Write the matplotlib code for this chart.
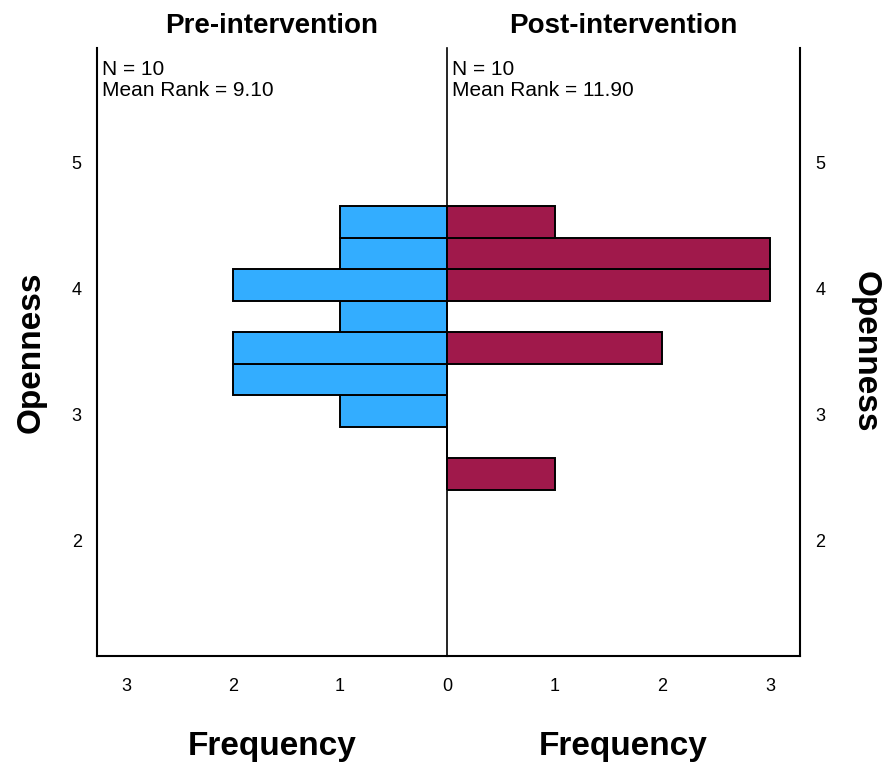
import matplotlib
matplotlib.use("Agg")
import matplotlib.pyplot as plt

# Data
bin_edges = [2.40, 2.65, 2.90, 3.15, 3.40, 3.65, 3.90, 4.15, 4.40, 4.65]
pre_counts = [0, 0, 1, 2, 2, 1, 2, 1, 1]
post_counts = [1, 0, 0, 0, 2, 0, 3, 3, 1]
groups = ["Pre-intervention", "Post-intervention"]
n_values = [10, 10]
mean_ranks = [9.10, 11.90]
y_ticks = [2, 3, 4, 5]
x_ticks_left = [0, 1, 2, 3]
x_ticks_right = [1, 2, 3]

plt.rcParams['font.family'] = ['Liberation Sans', 'DejaVu Sans']

fig = plt.figure(figsize=(8.89, 7.67), dpi=100)
L, R, B, T = 97/889, 800/889, 1-656/767, 1-48/767
M = 447/889
axl = fig.add_axes([L, B, M-L, T-B])
axr = fig.add_axes([M, B, R-M, T-B], sharey=axl)
axr.patch.set_visible(False)

lower = bin_edges[:-1]
heights = [bin_edges[i+1]-bin_edges[i] for i in range(len(lower))]

axl.barh(lower, pre_counts, height=heights, align='edge', color='#33ADFF',
         edgecolor='black', linewidth=1.4)
axr.barh(lower, post_counts, height=heights, align='edge', color='#A0194B',
         edgecolor='black', linewidth=1.4)

axl.set_xlim(3.27, 0)
axr.set_xlim(0, 3.28)
axl.set_ylim(1.08, 5.905)

axl.set_xticks(x_ticks_left)
axr.set_xticks(x_ticks_right)
for ax in (axl, axr):
    ax.spines['top'].set_visible(False)
    ax.tick_params(length=0, labelsize=13, pad=16, axis='x')
    ax.tick_params(length=0, labelsize=13, axis='y')

axl.spines['left'].set_linewidth(1.5)
axl.spines['bottom'].set_linewidth(1.5)
axl.spines['right'].set_linewidth(1.2)
axl.spines['right'].set_color('black')
axr.spines['left'].set_visible(False)
axr.spines['right'].set_linewidth(1.5)
axr.spines['bottom'].set_linewidth(1.5)

axl.set_yticks(y_ticks)
axl.tick_params(axis='y', pad=11)
axr.yaxis.tick_right()
axr.tick_params(axis='y', pad=11, labelright=True, labelleft=False)

axl.set_ylabel("Openness", fontsize=24, fontweight='bold', labelpad=18)
axr.yaxis.set_label_position('right')
axr.set_ylabel("Openness", fontsize=24, fontweight='bold', rotation=270, labelpad=40)

for ax in (axl, axr):
    ax.set_xlabel("Frequency", fontsize=24, fontweight='bold', labelpad=26)

for ax, g, n, mr in zip((axl, axr), groups, n_values, mean_ranks):
    ax.set_title(g, fontsize=20, fontweight='bold', pad=11)
    ax.text(5/350, 0.98,
            f"N = {n}\nMean Rank = {mr:.2f}", transform=ax.transAxes,
            ha='left', va='top', fontsize=15, linespacing=1.1)

fig.savefig("out.png", dpi=100)
